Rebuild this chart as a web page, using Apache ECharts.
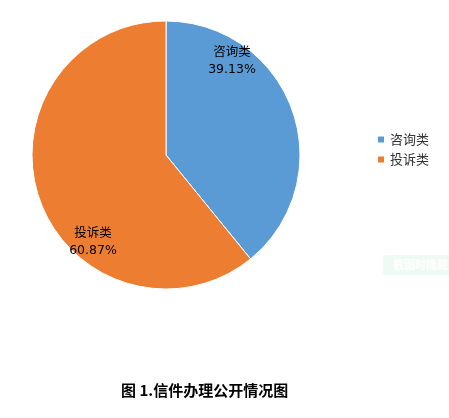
<!DOCTYPE html>
<html>
<head>
<meta charset="utf-8">
<script src="https://cdn.jsdelivr.net/npm/echarts@6/dist/echarts.min.js"></script>
<style>
html, body { margin: 0; padding: 0; background: #fff; }
#main { width: 449px; height: 418px; }
</style>
</head>
<body>
<div id="main"></div>
<script>
// 数据
var categories = ['咨询类', '投诉类'];
var values = [39.13, 60.87];
var colors = ['#5B9BD5', '#ED7D31'];
// 标签位置（Excel 的最佳匹配位置）
var labelPos = [[232, 61], [93, 242]];

var chart = echarts.init(document.getElementById('main'));

var option = {
    animation: false,
    title: {
        text: '图 1.信件办理公开情况图',
        left: 116,
        top: 378,
        textStyle: {
            fontFamily: 'Noto Sans CJK SC',
            fontSize: 15,
            fontWeight: 'bold',
            color: '#000'
        }
    },
    legend: {
        orient: 'vertical',
        left: 371,
        top: 128,
        itemWidth: 8,
        itemHeight: 8,
        itemGap: 7,
        icon: 'rect',
        textStyle: {
            fontFamily: 'Noto Sans CJK SC',
            fontSize: 13,
            color: '#333'
        },
        data: categories
    },
    graphic: [
        {
            type: 'rect',
            left: 383,
            top: 255,
            shape: { width: 70, height: 20, r: 3 },
            style: { fill: '#f0faf5' }
        },
        {
            type: 'text',
            left: 393,
            top: 259,
            style: {
                text: '截图时隐藏',
                fill: '#ffffff',
                font: 'bold 11px "Noto Sans CJK SC"'
            }
        }
    ],
    series: [
        {
            type: 'pie',
            center: [166, 155],
            radius: 134,
            startAngle: 90,
            clockwise: true,
            itemStyle: {
                borderColor: '#fff',
                borderWidth: 1
            },
            label: {
                show: true,
                position: 'inside',
                formatter: function (p) {
                    return p.name + '\n' + p.value.toFixed(2) + '%';
                },
                fontFamily: 'DejaVu Sans, Noto Sans CJK SC',
                fontSize: 12.5,
                lineHeight: 17,
                color: '#000',
                align: 'center'
            },
            labelLayout: function (params) {
                var pos = labelPos[params.dataIndex];
                return { x: pos[0], y: pos[1], align: 'center', verticalAlign: 'middle' };
            },
            data: categories.map(function (name, i) {
                return { name: name, value: values[i], itemStyle: { color: colors[i] } };
            })
        }
    ]
};

chart.setOption(option);
</script>
</body>
</html>
